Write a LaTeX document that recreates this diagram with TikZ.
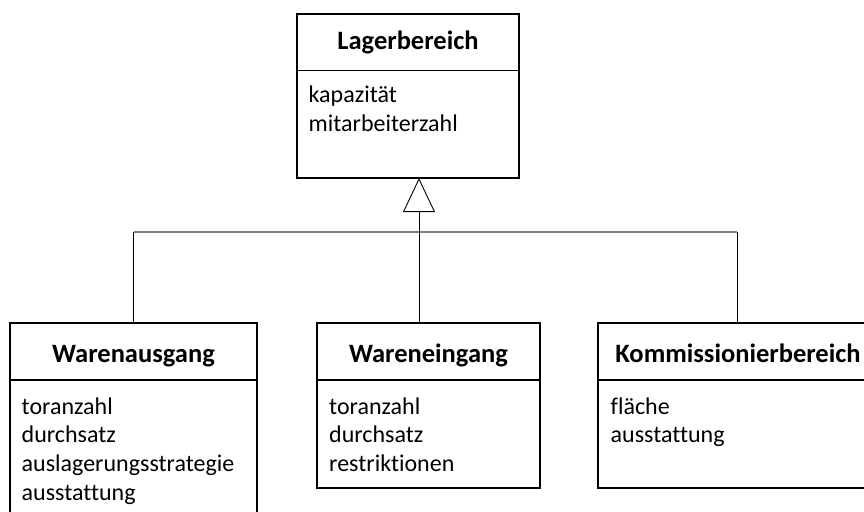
\documentclass[tikz,border=0pt]{standalone}
\usepackage{fontspec}
\setmainfont[Ligatures=NoCommon]{Carlito}
\usetikzlibrary{arrows.meta}
\definecolor{hline}{HTML}{808080}
\tikzset{
  umlbox/.style={draw=black, line width=1.5pt, fill=none, inner sep=0pt, outer sep=0pt},
  divline/.style={draw=black, line width=1.5pt},
  titletext/.style={font=\bfseries\fontsize{26.5}{31}\selectfont, inner sep=0pt, anchor=base},
  attrtext/.style={font=\fontsize{24}{28}\selectfont, inner sep=0pt, anchor=base west},
  conn/.style={draw=black, line width=0.9pt},
  connh/.style={draw=hline, line width=1.2pt},
  genarrow/.style={-{Triangle[open, length=34pt, width=32pt, line width=0.9pt]}}
}
\begin{document}
\begin{tikzpicture}[x=1pt,y=-1pt]
\useasboundingbox (0,0) rectangle (864,511);
\clip (0,0) rectangle (864,511);

% boxes
\node[umlbox, minimum width=222pt, minimum height=164pt] (lager) at (408,96) {};
\node[umlbox, minimum width=247pt, minimum height=202pt] (wa) at (133.5,424) {};
\node[umlbox, minimum width=223pt, minimum height=165pt] (we) at (428.5,405.5) {};
\node[umlbox, minimum width=278pt, minimum height=165pt] (ko) at (737,405.5) {};

% dividers
\coordinate (dl) at (0,70.5);
\coordinate (db) at (0,380);
\draw[divline] (lager.west |- dl) -- (lager.east |- dl);
\draw[divline] (wa.west |- db) -- (wa.east |- db);
\draw[divline] (we.west |- db) -- (we.east |- db);
\draw[divline] (ko.west |- db) -- (ko.east |- db);

% titles
\node[titletext] (lagerT) at (408,50) {Lagerbereich};
\node[titletext] (waT) at (133.5,362.5) {Warenausgang};
\node[titletext] (weT) at (428.5,362.5) {Wareneingang};
\node[titletext] (koT) at (738,362.5) {Kommissionierbereich};

% attributes
\foreach \t [count=\i] in {kapazität, mitarbeiterzahl}
  \node[attrtext] (lagerA\i) at (308.5,{102.3+29*(\i-1)}) {\t};
\foreach \t [count=\i] in {toranzahl, durchsatz, auslagerungsstrategie, ausstattung}
  \node[attrtext] (waA\i) at (21.5,{414+28.7*(\i-1)}) {\t};
\foreach \t [count=\i] in {toranzahl, durchsatz, restriktionen}
  \node[attrtext] (weA\i) at (329,{414+28.7*(\i-1)}) {\t};
\foreach \t [count=\i] in {fläche, ausstattung}
  \node[attrtext] (koA\i) at (610.5,{414+28.7*(\i-1)}) {\t};

% generalization connectors
\coordinate (jn) at (419,232);
\draw[connh] (wa.north |- jn) -- (ko.north |- jn);
\draw[conn] (wa.north) -- (wa.north |- jn);
\draw[conn] (ko.north) -- (ko.north |- jn);
\draw[conn, genarrow] (jn |- we.north) -- (jn |- lager.south);
\end{tikzpicture}
\end{document}
